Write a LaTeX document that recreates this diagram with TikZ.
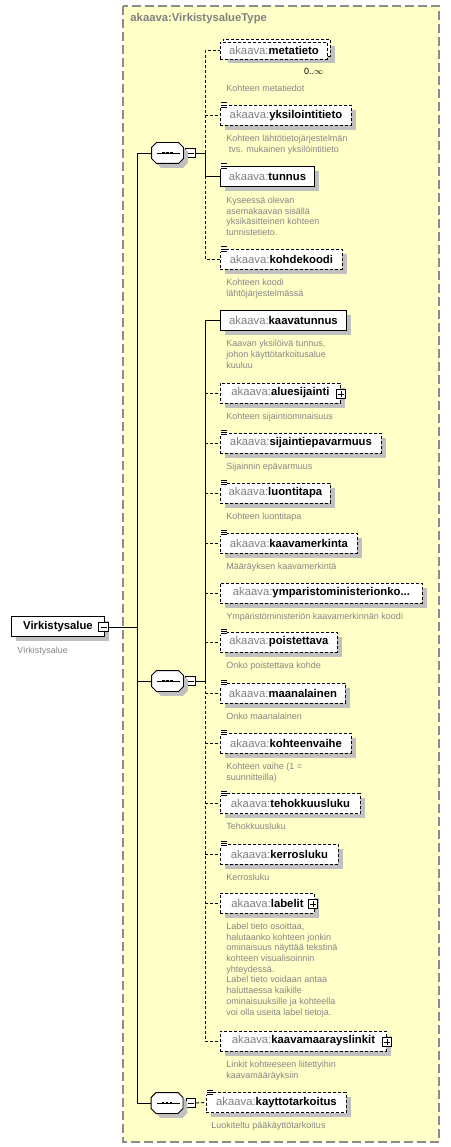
\documentclass[tikz,border=0pt]{standalone}
\usepackage{fontspec}
\setmainfont{Liberation Sans}
\usetikzlibrary{positioning,calc,shadows}
\definecolor{typefill}{HTML}{FFFFC8}
\definecolor{typeline}{HTML}{8C8C8C}
\definecolor{prefix}{HTML}{808080}
\definecolor{note}{HTML}{868686}
\definecolor{shade}{HTML}{C0C0C0}
\newcommand{\ak}[1]{{\color{prefix}akaava:}\textbf{#1}}

\begin{document}
\begin{tikzpicture}[x=1pt,y=-1pt,line width=.9pt,
  every node/.style={font=\fontsize{11.3}{13}\selectfont},
  dsh/.style={dash pattern=on 3pt off 2pt},
  box/.style={draw,fill=white,anchor=west,minimum height=20pt,inner xsep=8pt,inner ysep=0pt},
  el/.style={box,drop shadow={shadow xshift=4.5pt,shadow yshift=-4.5pt,fill=shade,opacity=1}},
  opt/.style={el,dsh},
  desc/.style={align=left,inner sep=0pt,text=note,font=\fontsize{9}{10.7}\selectfont},
  seq/.style={minimum width=31pt,minimum height=20pt,inner sep=0pt},
  sign/.style={draw,fill=white,minimum size=9.5pt,inner sep=0pt,line width=.8pt},
  minus/.style={sign,path picture={\draw ($(path picture bounding box.center)+(-3,0)$) -- ++(6,0);}},
  plus/.style={sign,path picture={\draw ($(path picture bounding box.center)+(-3,0)$) -- ++(6,0) ($(path picture bounding box.center)+(0,-3)$) -- ++(0,6);}}]
\useasboundingbox (0,0) rectangle (450,1147);
\draw[typeline,fill=typefill,line width=1.2pt,dash pattern=on 9pt off 4pt] (123,6) rectangle (439,1142);
\node[anchor=west,inner sep=0pt,text=prefix] (ctype) at (130,19) {\textbf{akaava:VirkistysalueType}};
\coordinate (tr) at (137,0);
\coordinate (br) at (205,0);

% root element
\node[el,minimum width=93pt,inner xsep=7pt] (vs) at (11,626.5) {\textbf{Virkistysalue}\hspace{9pt}};
\node[minus] (vs-m) at (103.5,627) {};
\node[desc,below right=10pt and 6pt of vs.south west] (vs-d) {Virkistysalue};

% sequences
\node[seq] (s1) at (167.5,153) {};
\node[minus] (s1-m) at (190.5,153) {};
\node[seq] (s2) at (167.5,681) {};
\node[minus] (s2-m) at (190.5,681) {};
\node[seq] (s3) at (167,1103) {};
\node[minus] (s3-m) at (191,1103) {};
\foreach \s in {s1,s2,s3}{
  \foreach \o/\c/\k in {4.5/shade/none,0/white/black}
    \path[fill=\c,draw=\k] ($(\s.north west)+(5+\o,\o)$) -- ($(\s.north east)+(-5+\o,\o)$) -- ($(\s.north east)+(\o,5+\o)$)
      -- ($(\s.south east)+(\o,-5+\o)$) -- ($(\s.south east)+(-5+\o,\o)$) -- ($(\s.south west)+(5+\o,\o)$)
      -- ($(\s.south west)+(\o,-5+\o)$) -- ($(\s.north west)+(\o,5+\o)$) -- cycle;
  \draw ($(\s.center)+(-10.5,0)$) -- ++(23,0);
  \foreach \dx in {-4,0,4} \fill[black] ($(\s.center)+(\dx-1.4,-1.4)$) rectangle ++(2.8,2.8);
}

% first sequence
\node[box,dsh,minimum width=107pt,minimum height=17pt,drop shadow={shadow xshift=4.5pt,shadow yshift=-7.5pt,fill=shade,opacity=1}] (metatieto-bk) at (223,47.5) {};
\node[box,dsh,minimum width=107pt,minimum height=17pt] (metatieto) at (220,50.5) {\ak{metatieto}};
\node[below left=8pt and 4pt of metatieto.south east,inner sep=0pt,font=\fontsize{9}{10}\selectfont] (metatieto-o) {0..$\infty$};
\node[desc,below right=25pt and 6pt of metatieto.south west] (metatieto-d) {Kohteen metatiedot};
\node[opt,minimum width=131pt] (yksilointitieto) at (220,115.5) {\ak{yksilointitieto}};
\node[desc,below right=8.5pt and 6pt of yksilointitieto.south west] (yksilointitieto-d) {Kohteen lähtötietojärjestelmän\\~tvs. mukainen yksilöintitieto};
\node[el,minimum width=94pt] (tunnus) at (220,176.5) {\ak{tunnus}};
\node[desc,below right=9.5pt and 6pt of tunnus.south west] (tunnus-d) {Kyseessä olevan\\asemakaavan sisällä\\yksikäsitteinen kohteen\\tunnistetieto.};
\node[opt,minimum width=122pt] (kohdekoodi) at (220,259.5) {\ak{kohdekoodi}};
\node[desc,below right=9pt and 6pt of kohdekoodi.south west] (kohdekoodi-d) {Kohteen koodi\\lähtöjärjestelmässä};

% second sequence
\node[el,minimum width=126pt] (kaavatunnus) at (220,320.5) {\ak{kaavatunnus}};
\node[desc,below right=9pt and 6pt of kaavatunnus.south west] (kaavatunnus-d) {Kaavan yksilöivä tunnus,\\johon käyttötarkoitusalue\\kuuluu};
\node[opt,minimum width=120pt] (aluesijainti) at (220,393) {\ak{aluesijainti}};
\node[desc,below right=9pt and 6pt of aluesijainti.south west] (aluesijainti-d) {Kohteen sijaintiominaisuus};
\node[opt,minimum width=161pt] (sijaintiepavarmuus) at (220,443) {\ak{sijaintiepavarmuus}};
\node[desc,below right=9pt and 6pt of sijaintiepavarmuus.south west] (sijaintiepavarmuus-d) {Sijainnin epävarmuus};
\node[opt,minimum width=110pt] (luontitapa) at (220,493) {\ak{luontitapa}};
\node[desc,below right=9pt and 6pt of luontitapa.south west] (luontitapa-d) {Kohteen luontitapa};
\node[opt,minimum width=137pt] (kaavamerkinta) at (220,543) {\ak{kaavamerkinta}};
\node[desc,below right=9pt and 6pt of kaavamerkinta.south west] (kaavamerkinta-d) {Määräyksen kaavamerkintä};
\node[opt,minimum width=202pt] (ymparisto) at (220,593) {\ak{ymparistoministerionko...}};
\node[desc,below right=9pt and 6pt of ymparisto.south west] (ymparisto-d) {Ympäristöministeriön kaavamerkinnän koodi};
\node[opt,minimum width=117pt] (poistettava) at (220,642) {\ak{poistettava}};
\node[desc,below right=9pt and 6pt of poistettava.south west] (poistettava-d) {Onko poistettava kohde};
\node[opt,minimum width=125pt] (maanalainen) at (220,693) {\ak{maanalainen}};
\node[desc,below right=9pt and 6pt of maanalainen.south west] (maanalainen-d) {Onko maanalainen};
\node[opt,minimum width=131pt] (kohteenvaihe) at (220,743) {\ak{kohteenvaihe}};
\node[desc,below right=9pt and 6pt of kohteenvaihe.south west] (kohteenvaihe-d) {Kohteen vaihe (1 =\\suunnitteilla)};
\node[opt,minimum width=140pt] (tehokkuusluku) at (220,803.5) {\ak{tehokkuusluku}};
\node[desc,below right=9pt and 6pt of tehokkuusluku.south west] (tehokkuusluku-d) {Tehokkuusluku};
\node[opt,minimum width=118pt] (kerrosluku) at (220,854) {\ak{kerrosluku}};
\node[desc,below right=9pt and 6pt of kerrosluku.south west] (kerrosluku-d) {Kerrosluku};
\node[opt,minimum width=94pt] (labelit) at (220,903) {\ak{labelit}\hspace{4pt}};
\node[desc,below right=9pt and 6pt of labelit.south west] (labelit-d) {Label tieto osoittaa,\\halutaanko kohteen jonkin\\ominaisuus näyttää tekstinä\\kohteen visualisoinnin\\yhteydessä.\\Label tieto voidaan antaa\\haluttaessa kaikille\\ominaisuuksille ja kohteella\\voi olla useita label tietoja.};
\node[opt,minimum width=166pt] (kaavamaarayslinkit) at (220,1041) {\ak{kaavamaarayslinkit}\hspace{4pt}};
\node[desc,below right=9pt and 6pt of kaavamaarayslinkit.south west] (kaavamaarayslinkit-d) {Linkit kohteeseen liitettyihin\\kaavamääräyksiin};

% third sequence
\node[opt,minimum width=140pt] (kayttotarkoitus) at (206,1102.5) {\ak{kayttotarkoitus}};
\node[desc,below right=9pt and 5pt of kayttotarkoitus.south west] (kayttotarkoitus-d) {Luokiteltu pääkäyttötarkoitus};

% expand boxes
\node[plus] (aluesijainti-p) at ([yshift=-1pt]aluesijainti.east) {};
\node[plus] (labelit-p) at ([xshift=-2pt,yshift=-1pt]labelit.east) {};
\node[plus] (kaavamaarayslinkit-p) at ([yshift=-1pt]kaavamaarayslinkit.east) {};

% simple type marks
\foreach \n in {yksilointitieto,tunnus,kohdekoodi,sijaintiepavarmuus,luontitapa,kaavamerkinta,poistettava,maanalainen,kohteenvaihe,tehokkuusluku,kerrosluku,kayttotarkoitus}{
  \fill[white] ($(\n.north west)+(-0.6,-0.6)$) rectangle ++(7.5,4);
  \foreach \d in {-2.2,0,2.2} \draw[line width=.7pt] ($(\n.north west)+(1,\d)$) -- ++(5.5,0);
}

% links
\draw (s1.west) -- (s1.west -| tr) |- (s3.west);
\draw (s2.west) -- (s2.west -| tr);
\draw (vs-m.east) -- (vs-m.east -| tr);
\draw (s1-m.east) -- (s1-m.east -| br) |- (tunnus.west);
\draw[dsh] (s1-m.east -| br) |- (metatieto.west);
\draw[dsh] (yksilointitieto.west -| br) -- (yksilointitieto.west);
\draw[dsh] (tunnus.west -| br) |- (kohdekoodi.west);
\draw (s2-m.east) -- (s2-m.east -| br) |- (kaavatunnus.west);
\draw[dsh] (s2-m.east -| br) -- (kaavamaarayslinkit.west -| br);
\foreach \n in {aluesijainti,sijaintiepavarmuus,luontitapa,kaavamerkinta,ymparisto,poistettava,maanalainen,kohteenvaihe,tehokkuusluku,kerrosluku,labelit,kaavamaarayslinkit}
  \draw[dsh] (\n.west -| br) -- (\n.west);
\draw[dsh] (s3-m.east) -- (kayttotarkoitus.west);
\end{tikzpicture}
\end{document}
